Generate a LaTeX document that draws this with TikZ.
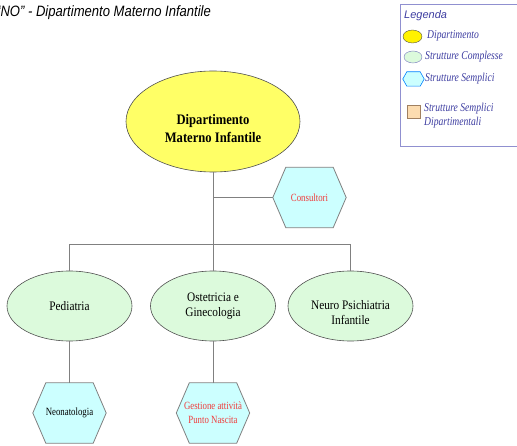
\documentclass[tikz,border=0pt]{standalone}
\usepackage{fontspec}
\setmainfont{Liberation Serif}
\newfontfamily\sqfont[FakeStretch=0.8]{Liberation Serif}
\newfontfamily\mdfont[FakeStretch=0.87]{Liberation Serif}
\newfontfamily\titlefont[FakeStretch=0.87]{Liberation Sans}
\newfontfamily\legfont{Liberation Sans}
\usetikzlibrary{shapes.geometric,backgrounds}
\definecolor{yellowfill}{HTML}{FFFF66}
\definecolor{greenfill}{HTML}{DCFADC}
\definecolor{cyanfill}{HTML}{CCFFFF}
\definecolor{redtxt}{HTML}{F03C3C}
\definecolor{linegrey}{HTML}{808080}
\definecolor{edgegrey}{HTML}{505050}
\definecolor{legblue}{HTML}{3C3CA0}
\definecolor{legframe}{HTML}{9090D0}
\definecolor{peach}{HTML}{FCDCB0}
\definecolor{peachedge}{HTML}{A08060}
\newcommand\hexshape[3]{%
  \begin{scope}[on background layer]
    \filldraw[#3] ([xshift=#2]#1.north west) -- ([xshift=-#2]#1.north east) -- (#1.east)
      -- ([xshift=-#2]#1.south east) -- ([xshift=#2]#1.south west) -- (#1.west) -- cycle;
  \end{scope}}
% lowered two-line text block (keeps the node centre on the shape centre)
\newcommand\lowtext[2]{\raisebox{-#1}[0pt][0pt]{\begin{tabular}{@{}c@{}}#2\end{tabular}}}
\tikzset{
  conn/.style={draw=linegrey, line width=0.8pt},
  deptell/.style={ellipse, draw=edgegrey, line width=0.6pt, fill=yellowfill, minimum width=174pt, minimum height=101pt, inner sep=0pt, align=center, font=\mdfont\bfseries\fontsize{14.5}{18}\selectfont},
  complex/.style={ellipse, draw=edgegrey, line width=0.6pt, fill=greenfill, minimum width=125pt, minimum height=70pt, inner sep=0pt, align=center, font=\mdfont\fontsize{13}{15}\selectfont},
  hexbox/.style={rectangle, minimum width=73pt, minimum height=60pt, inner sep=0pt, align=center, font=\sqfont\fontsize{11}{14}\selectfont},
  hexfill/.style={fill=cyanfill, draw=linegrey, line width=0.8pt},
  legtxt/.style={anchor=west, inner sep=0pt, align=left, text=legblue, font=\sqfont\itshape\fontsize{12}{14}\selectfont},
}
\begin{document}
\begin{tikzpicture}[x=1pt, y=-1pt]
\useasboundingbox (0,0) rectangle (517,446);
% title
\node[anchor=west, inner sep=0pt, font=\titlefont\itshape\fontsize{15}{17}\selectfont] (title) at (-4,13) {“NO” - Dipartimento Materno Infantile};
% legend
\draw[legframe, line width=0.8pt] (400,4) rectangle (520,146);
\node[anchor=west, inner sep=0pt, text=legblue, font=\legfont\itshape\fontsize{11}{13}\selectfont] (legtitle) at (404,16) {Legenda};
\node[ellipse, draw=edgegrey, fill=yellow, minimum width=19pt, minimum height=13pt, inner sep=0pt] (ly) at (412.5,36.5) {};
\node[legtxt] (lt1) at (427,36) {Dipartimento};
\node[ellipse, draw=legblue!70, fill=greenfill, minimum width=18pt, minimum height=12pt, inner sep=0pt] (lg) at (413,57) {};
\node[legtxt] (lt2) at (425,57) {Strutture Complesse};
\node[rectangle, minimum width=21pt, minimum height=14pt, inner sep=0pt] (lh) at (413.5,79) {};
\hexshape{lh}{4pt}{fill=cyanfill, draw=blue!50!cyan, line width=0.6pt}
\node[legtxt] (lt3) at (425,79) {Strutture Semplici};
\node[rectangle, draw=peachedge, fill=peach, minimum width=13pt, minimum height=13pt, inner sep=0pt] (lr) at (413.5,111.5) {};
\node[legtxt, anchor=north west] (lt4) at (424,103) {Strutture Semplici\\Dipartimentali};
% main nodes
\node[deptell] (dmi) at (213,121.5) {\lowtext{11.6pt}{Dipartimento\\Materno Infantile}};
\node[hexbox, text=redtxt] (cons) at (309.5,197.5) {Consultori};
\hexshape{cons}{13pt}{hexfill}
\node[complex] (ped) at (69.5,306) {Pediatria};
\node[complex] (ost) at (213,306) {Ostetricia e\\Ginecologia};
\node[complex] (npi) at (350.5,306) {\lowtext{11pt}{Neuro Psichiatria\\Infantile}};
\node[hexbox] (neo) at (69.5,413) {Neonatologia};
\hexshape{neo}{13pt}{hexfill}
\node[hexbox, text=redtxt] (gest) at (213,413) {Gestione attività\\Punto Nascita};
\hexshape{gest}{13pt}{hexfill}
% connectors
\coordinate (bus) at (0,244);
\draw[conn] (dmi.south) -- (ost.north);
\draw[conn] (ped.north) -- (ped.north |- bus) -- (npi.north |- bus) -- (npi.north);
\draw[conn] (cons.west) -- (cons.west -| dmi.south);
\draw[conn] (ped.south) -- (neo.north);
\draw[conn] (ost.south) -- (gest.north);
\end{tikzpicture}
\end{document}
